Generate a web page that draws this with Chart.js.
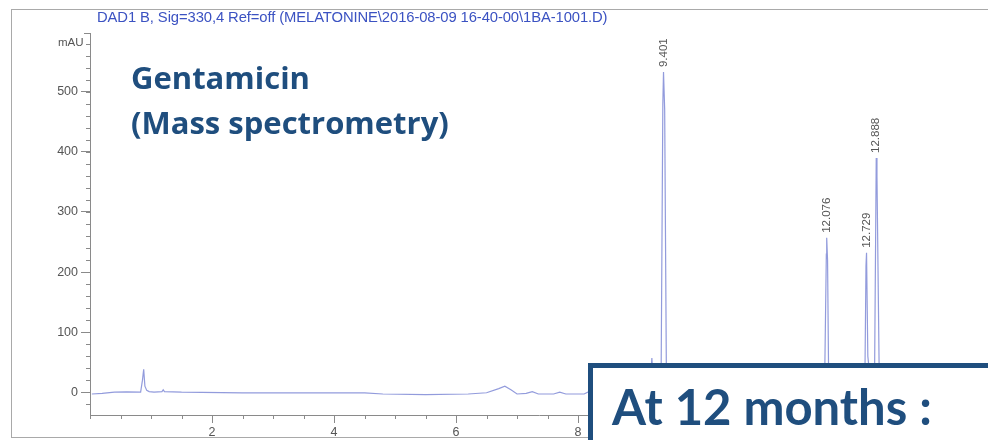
<!DOCTYPE html>
<html>
<head>
<meta charset="utf-8">
<script src="https://cdn.jsdelivr.net/npm/chart.js@4/dist/chart.umd.min.js"></script>
<style>
  html, body { margin: 0; padding: 0; background: #fff; }
  #wrap { position: relative; width: 988px; height: 440px; overflow: hidden; }
  #frame { position: absolute; left: 11px; top: 9px; width: 990px; height: 429px;
           border: 1.5px solid #a9a9a9; box-sizing: border-box; }
  canvas { position: absolute; left: 0; top: 0; }
  .lbl { position: absolute; font-family: "Liberation Sans", Arial, sans-serif; white-space: nowrap; }
  #title { left: 97px; top: 9px; font-size: 14.8px; color: #3b52c2; letter-spacing: -0.1px; }
  #unit { left: 58px; top: 36px; font-size: 11.5px; color: #555; }
  .note { position: absolute; font-weight: bold; color: #1f4e7e; white-space: nowrap; }
  #drug { left: 131px; top: 55px; font-family: "Open Sans", Lato, sans-serif; font-size: 31px; line-height: 45px; }
  #box { position: absolute; left: 588px; top: 363px; width: 420px; height: 100px;
         border: 5px solid #1f4e7e; background: #fff; box-sizing: border-box; }
  #box span { position: absolute; left: 19px; top: 9px; font-family: Lato, sans-serif; font-size: 49px; }
</style>
</head>
<body>
<div id="wrap">
  <div id="frame"></div>
  <canvas id="chromChart" width="988" height="440"></canvas>
  <div class="lbl" id="title">DAD1 B, Sig=330,4 Ref=off (MELATONINE\2016-08-09 16-40-00\1BA-1001.D)</div>
  <div class="lbl" id="unit">mAU</div>
  <div class="note" id="drug">Gentamicin<br>(Mass spectrometry)</div>
  <div id="box"><span class="note">At 12 months :</span></div>
</div>
<script>
// retention time (min) and absorbance (mAU)
const times = [0.03, 0.2, 0.4, 0.6, 0.83, 0.86, 0.88, 0.9, 0.93, 0.97, 1.05, 1.18, 1.2, 1.22, 1.5,
  2.5, 3.5, 4.5, 4.8, 5.5, 6.2, 6.5, 6.7, 6.8, 6.9, 7.0, 7.15, 7.25, 7.35, 7.6, 7.7, 7.8, 8.1, 8.2, 8.3,
  8.6, 9.0, 9.18, 9.21, 9.24, 9.36, 9.39, 9.401, 9.42, 9.45, 10.5, 12.04, 12.07, 12.076, 12.09, 12.11,
  12.7, 12.72, 12.729, 12.75, 12.8, 12.86, 12.888, 12.9, 12.94, 14.7];
const signal = [-3, -2, 0, 0.5, 0, 20, 38, 10, 3, 1, 0, 1, 4, 1, 0,
  -1, -1, -1, -3, -4, -3, -1, 6, 10, 4, -3, -2, 1, -3, -3, 0, -3, -3, 2, -2,
  -2, -1, -1, 57, 0, 0, 480, 533, 470, 0, 0, 0, 230, 257, 220, 0,
  0, 210, 232, 60, 10, 20, 390, 360, 0, 0];

// labelled peaks
const peakTimes = [9.401, 12.076, 12.729, 12.888];
const peakHeights = [533, 257, 232, 390];
const peakLabels = ["9.401", "12.076", "12.729", "12.888"];

const xTicks = [2, 4, 6, 8, 10, 12, 14];
const yTicks = [0, 100, 200, 300, 400, 500];
const xMinorStep = 0.5;
const yMinorStep = 20;

const axisGrey = "#8a8a8a";
const textGrey = "#555";

const extras = {
  id: "extras",
  afterDraw(chart) {
    const ctx = chart.ctx;
    const x = chart.scales.x, y = chart.scales.y;
    ctx.save();
    // minor ticks
    ctx.strokeStyle = axisGrey;
    ctx.lineWidth = 1;
    ctx.beginPath();
    for (let v = y.min - (y.min % yMinorStep); v <= y.max; v += yMinorStep) {
      if (v < y.min) continue;
      const py = Math.round(y.getPixelForValue(v)) + 0.5;
      ctx.moveTo(x.left - 4, py);
      ctx.lineTo(x.left, py);
    }
    for (let v = 0; v <= x.max; v += xMinorStep) {
      if (v < x.min) continue;
      const px = Math.round(x.getPixelForValue(v)) + 0.5;
      ctx.moveTo(px, y.bottom);
      ctx.lineTo(px, y.bottom + 4);
    }
    // top bracket of y axis
    ctx.moveTo(x.left - 6, y.top + 0.5);
    ctx.lineTo(x.left, y.top + 0.5);
    ctx.stroke();

    // peak retention time labels
    ctx.fillStyle = textGrey;
    ctx.font = "11.5px 'Liberation Sans', Arial, sans-serif";
    ctx.textAlign = "left";
    ctx.textBaseline = "middle";
    peakTimes.forEach((t, i) => {
      const px = x.getPixelForValue(t);
      const py = y.getPixelForValue(peakHeights[i]);
      ctx.save();
      ctx.translate(px, py - 5);
      ctx.rotate(-Math.PI / 2);
      ctx.fillText(peakLabels[i], 0, 0);
      ctx.restore();
    });
    ctx.restore();
  }
};

new Chart(document.getElementById("chromChart"), {
  type: "line",
  data: {
    datasets: [{
      data: times.map((t, i) => ({ x: t, y: signal[i] })),
      borderColor: "rgba(110, 122, 208, 0.75)",
      borderWidth: 1.2,
      pointRadius: 0,
      tension: 0,
      fill: false
    }]
  },
  options: {
    responsive: false,
    animation: false,
    layout: { padding: { top: 33, right: 0, left: 0, bottom: 0 } },
    plugins: { legend: { display: false }, tooltip: { enabled: false } },
    scales: {
      x: {
        type: "linear",
        min: 0,
        max: 14.72,
        afterFit: (s) => { s.height = 25; },
        afterBuildTicks: (s) => { s.ticks = xTicks.map((v) => ({ value: v })); },
        border: { display: true, color: axisGrey, width: 1 },
        grid: { drawOnChartArea: false, drawTicks: true, tickLength: 8, color: axisGrey },
        ticks: { color: textGrey, font: { size: 12.5, family: "'Liberation Sans', Arial" }, padding: 2, maxRotation: 0 }
      },
      y: {
        min: -38,
        max: 598,
        afterFit: (s) => { s.width = 90; },
        afterBuildTicks: (s) => { s.ticks = yTicks.map((v) => ({ value: v })); },
        border: { display: true, color: axisGrey, width: 1 },
        grid: { drawOnChartArea: false, drawTicks: true, tickLength: 9, color: axisGrey },
        ticks: { color: textGrey, font: { size: 12.5, family: "'Liberation Sans', Arial" }, padding: 3 }
      }
    }
  },
  plugins: [extras]
});
</script>
</body>
</html>
